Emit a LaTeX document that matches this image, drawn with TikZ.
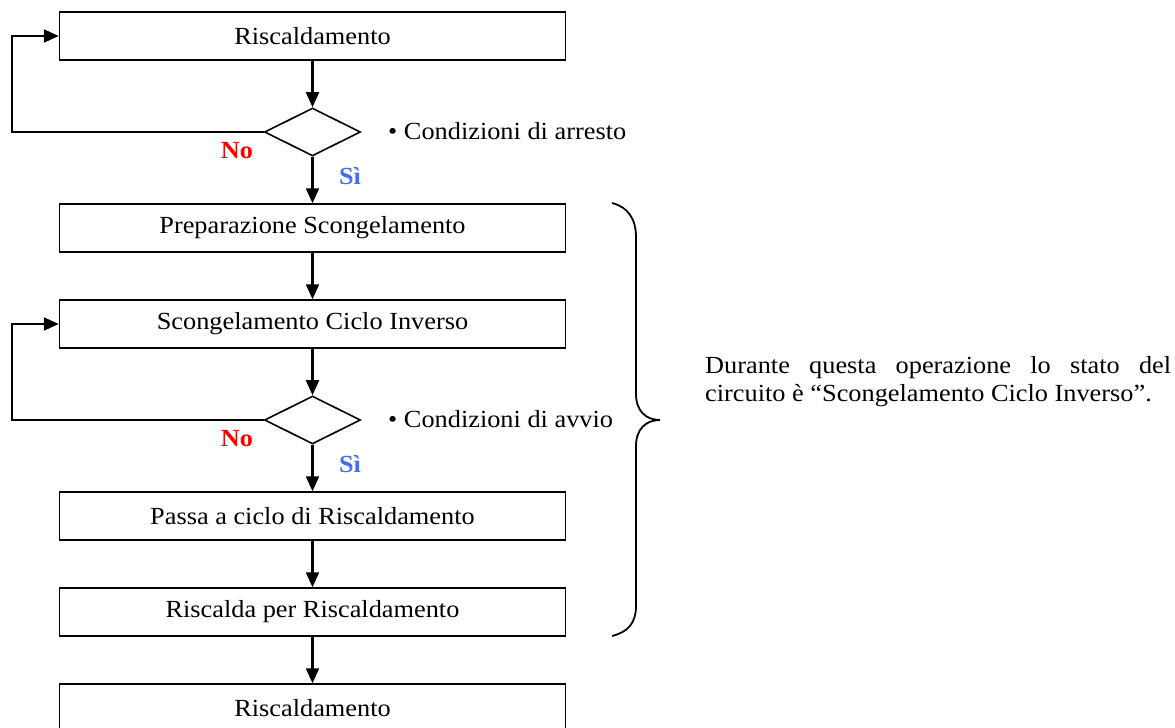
\documentclass[tikz,border=0pt]{standalone}
\usepackage{fontspec}
\setmainfont{Liberation Serif}[FakeStretch=1.07]
\usetikzlibrary{shapes.geometric,arrows.meta}
\definecolor{nored}{RGB}{255,0,0}
\definecolor{siblue}{RGB}{66,110,244}
\tikzset{
  box/.style={draw, line width=1.5pt, minimum width=506pt, minimum height=48pt, inner sep=0pt, font=\fontsize{24.6}{28}\selectfont},
  dec/.style={draw, diamond, aspect=2, line width=1.6pt, minimum width=96pt, minimum height=48pt, inner sep=0pt},
  arr/.style={line width=2.2pt, -{Triangle[length=15pt,width=13pt]}},
  lbl/.style={font=\fontsize{24.6}{28}\selectfont, inner sep=0pt},
  yn/.style={font=\fontsize{24.6}{28}\selectfont\bfseries, inner sep=0pt},
}
\begin{document}
\begin{tikzpicture}[x=1pt,y=-1pt]
\useasboundingbox (0,0) rectangle (1175,728);
\clip (0,0) rectangle (1175,728);
\node[box] (b1) at (312.5,36) {Riscaldamento};
\node[dec] (d1) at (312.5,132) {};
\node[box] (b2) at (312.5,228) {Preparazione Scongelamento};
\node[box] (b3) at (312.5,324) {Scongelamento Ciclo Inverso};
\node[dec] (d2) at (312.5,420) {};
\node[box] (b4) at (312.5,516) {Passa a ciclo di Riscaldamento};
\node[box] (b5) at (312.5,612) {Riscalda per Riscaldamento};
\node[box] (b6) at (312.5,708) {Riscaldamento};

\node[lbl, anchor=west] (c1) at (388,131) {• Condizioni di arresto};
\node[lbl, anchor=west] (c2) at (388,419) {• Condizioni di avvio};
\node[yn, text=nored] (n1) at (237,151) {No};
\node[yn, text=siblue] (s1) at (350,176) {Sì};
\node[yn, text=nored] (n2) at (237,439) {No};
\node[yn, text=siblue] (s2) at (350,464) {Sì};

\coordinate (l1) at (12,132);
\coordinate (l2) at (12,420);

\draw[arr] (b1) -- (d1);
\draw[arr] (d1) -- (b2);
\draw[arr] (b2) -- (b3);
\draw[arr] (b3) -- (d2);
\draw[arr] (d2) -- (b4);
\draw[arr] (b4) -- (b5);
\draw[arr] (b5) -- (b6);
\draw[arr] (d1.west) -- (l1) |- (b1.west);
\draw[arr] (d2.west) -- (l2) |- (b3.west);

\draw[line width=1.8pt] (612,203) .. controls (628,207) and (636,219) .. (636,237)
  -- (636,394) .. controls (636,411) and (646,420) .. (660,420)
  .. controls (646,420) and (636,429) .. (636,446)
  -- (636,606) .. controls (636,623) and (628,632) .. (612,636);

\node[lbl, anchor=north west, text width=466pt, align=justify] (t1) at (705,356)
  {\hyphenpenalty=10000 Durante questa operazione lo stato del\linebreak circuito è “Scongelamento Ciclo Inverso”.};
\end{tikzpicture}
\end{document}
